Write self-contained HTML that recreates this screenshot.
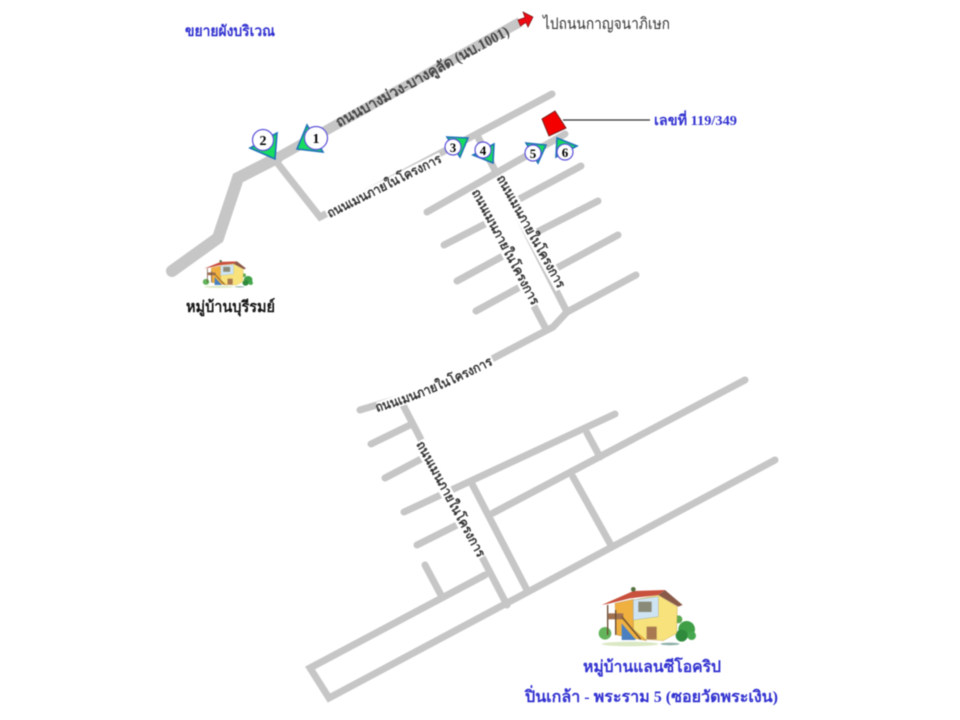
<!DOCTYPE html>
<html lang="th"><head><meta charset="utf-8"><title>แผนที่</title>
<style>
html,body{margin:0;padding:0;background:#fff}
svg{display:block;filter:blur(.5px)}
text{font-family:"Liberation Serif","Noto Serif CJK SC","DejaVu Serif",serif}
.b{font-weight:bold;fill:#3030d0}
.r{fill:#333;font-weight:bold;font-size:13px}
.n{font-weight:bold;font-size:13px;fill:#000;text-anchor:middle}
.rd{fill:none;stroke:#c6c6c6;stroke-width:7;stroke-linecap:round;stroke-linejoin:miter}
.t{fill:#16dc60;stroke:#1f72b8;stroke-width:1.6;stroke-linejoin:miter}
.c{fill:#fff;stroke:#5a50d8;stroke-width:1.2}
</style></head><body>
<svg width="960" height="720" viewBox="0 0 960 720" xmlns="http://www.w3.org/2000/svg">
<defs>
<path id="curve" d="M377,412 Q430,397 494,364"/>
<g id="house">
<ellipse cx="360" cy="222" rx="85" ry="7" fill="#dbe8c4"/>
<ellipse cx="480" cy="222" rx="28" ry="4" fill="#8fb0a8"/>
<circle cx="505" cy="148" r="12" fill="#5aa850"/>
<circle cx="285" cy="190" r="19" fill="#63b45a"/>
<circle cx="530" cy="178" r="25" fill="#3f9f46"/>
<circle cx="515" cy="197" r="18" fill="#2f8a3c"/>
<circle cx="545" cy="197" r="13" fill="#46a84e"/>
<polygon points="370,90 445,75 502,110 500,190 460,212 370,205" fill="#f7e27c" stroke="#b09040"/>
<polygon points="315,100 370,88 370,178 410,212 320,195" fill="#f0b040" stroke="#a87830"/>
<polygon points="370,90 445,80 445,140 370,150" fill="#cfe4f2" stroke="#8a9aa8"/>
<rect x="385" y="95" width="40" height="31" fill="#8a8a78"/>
<polygon points="275,105 370,63 465,60 445,75 360,85 300,100" fill="#c8503c"/>
<polygon points="465,60 518,105 505,110 445,75" fill="#8a5a48"/>
<rect x="295" y="130" width="45" height="18" fill="#a07050"/>
<rect x="291" y="105" width="4" height="90" fill="#6a4a30"/>
<rect x="315" y="120" width="4" height="75" fill="#6a4a30"/>
<polygon points="335,160 378,210 335,210" fill="#4a80c0"/>
<line x1="335" y1="140" x2="392" y2="208" stroke="#7a5a30" stroke-width="5"/>
<rect x="410" y="170" width="30" height="38" fill="#a87850"/>
<circle cx="370" cy="58" r="7" fill="#557040"/>
</g>
</defs>

<!-- main road -->
<polyline points="172,271 218,238 238,178 277,158" fill="none" stroke="#c6c6c6" stroke-width="12" stroke-linecap="round"/>
<line x1="275" y1="159" x2="520" y2="22" stroke="#c6c6c6" stroke-width="10"/>
<polyline class="rd" points="275,160 320,217 552,94"/>

<!-- upper estate -->
<line class="rd" x1="427" y1="212" x2="565" y2="134"/>
<line class="rd" x1="478" y1="137" x2="567" y2="312"/>
<line class="rd" x1="473" y1="190" x2="546" y2="329"/>
<line class="rd" x1="512" y1="203" x2="581" y2="166"/>
<line class="rd" x1="535" y1="233" x2="598" y2="201"/>
<line class="rd" x1="553" y1="270" x2="618" y2="235"/>
<line class="rd" x1="567" y1="312" x2="636" y2="275"/>
<line class="rd" x1="444" y1="245" x2="487" y2="223"/>
<line class="rd" x1="457" y1="281" x2="503" y2="256"/>
<line class="rd" x1="476" y1="311" x2="520" y2="287"/>
<polyline class="rd" points="567,312 553,327 490,360 420,392 360,410"/>

<!-- lower estate -->
<line class="rd" x1="402" y1="403" x2="507" y2="605"/>
<line class="rd" x1="371" y1="444" x2="410" y2="425"/>
<line class="rd" x1="385" y1="478" x2="423" y2="458"/>
<line class="rd" x1="404" y1="512" x2="615" y2="414"/>
<line class="rd" x1="417" y1="545" x2="457" y2="525"/>
<line class="rd" x1="493" y1="513" x2="745" y2="380"/>
<polyline class="rd" points="485,575 310,668 329,698 775,460"/>
<line class="rd" x1="425" y1="565" x2="442" y2="597"/>
<line class="rd" x1="471" y1="482" x2="527" y2="590"/>
<line class="rd" x1="573" y1="477" x2="612" y2="547"/>
<line class="rd" x1="587" y1="433" x2="600" y2="457"/>

<!-- road labels -->
<text class="r" transform="translate(339,127.5) rotate(-28.5)" textLength="195" lengthAdjust="spacingAndGlyphs" style="font-size:15px;fill:#444">ถนนบางม่วง-บางคูลัด (นบ.1001)</text>

<g transform="translate(329.7,218) rotate(-26.5)"><rect x="-1" y="-10" width="128" height="13" fill="#fff"/>
<text class="r" textLength="126" lengthAdjust="spacingAndGlyphs">ถนนเมนภายในโครงการ</text></g>

<g transform="translate(496.4,178) rotate(61)"><rect x="-1" y="-10" width="129" height="13" fill="#fff"/>
<text class="r" textLength="127" lengthAdjust="spacingAndGlyphs">ถนนเมนภายในโครงการ</text></g>

<g transform="translate(471.5,192) rotate(62)"><rect x="-1" y="-10" width="131" height="13" fill="#fff"/>
<text class="r" textLength="129" lengthAdjust="spacingAndGlyphs">ถนนเมนภายในโครงการ</text></g>

<g transform="translate(416,444) rotate(61.5)"><rect x="-1" y="-10" width="132" height="13" fill="#fff"/>
<text class="r" textLength="130" lengthAdjust="spacingAndGlyphs">ถนนเมนภายในโครงการ</text></g>

<path d="M378,408 Q425,393 493,360" fill="none" stroke="#fff" stroke-width="12"/>
<text class="r"><textPath href="#curve" textLength="126" lengthAdjust="spacingAndGlyphs">ถนนเมนภายในโครงการ</textPath></text>

<!-- red arrow -->
<polygon points="518,20 525,17.5 523,12 533,17 528,27 526,22.5 520.5,26" fill="#ee0a14" stroke="#7a1010" stroke-width=".7"/>

<!-- house marker -->
<polygon points="555,111 566,128 549,136 542,119" fill="#f50000" stroke="#7a2020" stroke-width="1"/>
<line x1="563" y1="120" x2="650" y2="120" stroke="#333" stroke-width="1.2"/>

<!-- numbered markers -->
<polygon class="t" points="307,125 297,149 323,152"/><circle class="c" cx="316" cy="138" r="11.5"/><text class="n" x="316" y="143" style="font-size:14px">1</text>
<polygon class="t" points="277,133 250,148 275,159"/><circle class="c" cx="263" cy="140" r="10.5"/><text class="n" x="263" y="145" style="font-size:14px">2</text>
<polygon class="t" points="447,137 468,138 460,157"/><circle class="c" cx="453" cy="147" r="8"/><text class="n" x="453" y="152">3</text>
<polygon class="t" points="494,144 473,155 493,163"/><circle class="c" cx="483" cy="150" r="8"/><text class="n" x="483" y="155">4</text>
<polygon class="t" points="526,143 546,145 538,163"/><circle class="c" cx="533" cy="153" r="8"/><text class="n" x="533" y="158">5</text>
<polygon class="t" points="557,138 577,146 556,157"/><circle class="c" cx="565" cy="152" r="8"/><text class="n" x="565" y="157">6</text>

<!-- houses -->
<use href="#house" transform="translate(510,570) scale(.3333)"/>
<use href="#house" transform="translate(157,252) scale(.172,.157)"/>

<!-- text -->
<text class="b" x="185" y="36" textLength="90" lengthAdjust="spacingAndGlyphs" style="font-size:15px">ขยายผังบริเวณ</text>
<text x="543" y="29" textLength="127" lengthAdjust="spacingAndGlyphs" style="font-size:16px" fill="#333">ไปถนนกาญจนาภิเษก</text>
<text class="b" x="654" y="125" textLength="83" lengthAdjust="spacingAndGlyphs" style="font-size:14px">เลขที่ 119/349</text>
<text x="186" y="312" textLength="89" lengthAdjust="spacingAndGlyphs" style="font-size:15.5px;font-weight:bold" fill="#111">หมู่บ้านบุรีรมย์</text>
<text class="b" x="583" y="672" textLength="138" lengthAdjust="spacingAndGlyphs" style="font-size:16px">หมู่บ้านแลนซีโอคริป</text>
<text class="b" x="525" y="702" textLength="253" lengthAdjust="spacingAndGlyphs" style="font-size:16px">ปิ่นเกล้า - พระราม 5 (ซอยวัดพระเงิน)</text>
</svg>
</body></html>
